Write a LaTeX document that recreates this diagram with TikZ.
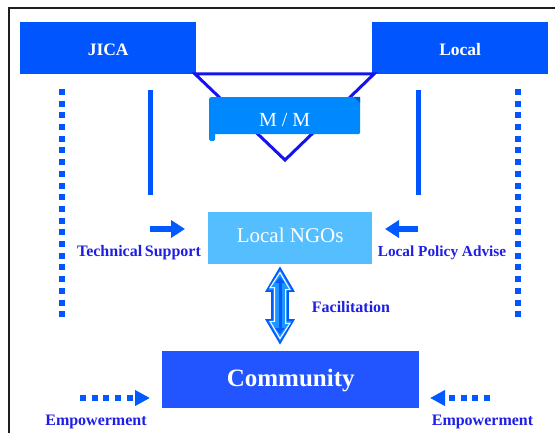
\documentclass[tikz,border=0pt]{standalone}
\usepackage{fontspec}
\setmainfont{Liberation Serif}
\usetikzlibrary{arrows.meta,calc}

\definecolor{boxblue}{RGB}{0,85,255}
\definecolor{triblue}{RGB}{20,20,240}
\definecolor{mmblue}{RGB}{0,136,255}
\definecolor{mmdark}{RGB}{0,90,200}
\definecolor{ngoblue}{RGB}{85,190,255}
\definecolor{commblue}{RGB}{34,85,255}
\definecolor{lblblue}{RGB}{30,30,230}
\definecolor{arrblue}{RGB}{0,90,255}
\definecolor{facfill}{RGB}{30,150,255}
\definecolor{framegray}{RGB}{30,30,30}

\tikzset{
  topbox/.style={fill=boxblue, minimum width=176pt, minimum height=52pt, inner sep=0pt,
    text=white, font=\bfseries\fontsize{17.5}{17.5}\selectfont, text height=14pt, text depth=0pt},
  mmbox/.style={fill=mmblue, rounded corners=1.5pt, minimum width=151pt, minimum height=37pt, inner sep=0pt,
    text=white, font=\fontsize{20}{20}\selectfont, text height=22pt, text depth=0pt},
  ngobox/.style={fill=ngoblue, minimum width=164pt, minimum height=52pt, inner sep=0pt,
    text=white, font=\fontsize{21}{21}\selectfont, text height=9.4pt, text depth=0pt},
  commbox/.style={fill=commblue, minimum width=257pt, minimum height=57pt, inner sep=0pt,
    text=white, font=\bfseries\fontsize{25}{25}\selectfont, text height=13pt, text depth=0pt},
  sidelabel/.style={text=lblblue, inner sep=0pt, anchor=base, font=\bfseries\fontsize{16}{16}\selectfont},
  triline/.style={draw=triblue, line width=3pt, line join=miter},
  solidbar/.style={draw=boxblue, line width=5pt},
  dotbar/.style={draw=boxblue, line width=6pt, dash pattern=on 6pt off 5.7pt},
  fatarrow/.style={draw=arrblue, line width=6pt, -{Triangle[length=14pt,width=17pt]}},
  dotarrow/.style={draw=arrblue, line width=6pt, dash pattern=on 6pt off 5.7pt,
    -{Triangle[length=15pt,width=15pt]}},
  frameline/.style={draw=framegray, line width=2pt},
}

\begin{document}
\begin{tikzpicture}[x=1pt, y=-1pt]
  \useasboundingbox (0,0) rectangle (555,433);

  % outer frame (top and left edges)
  \draw[frameline] (9,433) -- (9,8) -- (555,8);

  % partner boxes
  \node[topbox, anchor=north west] (jica) at (20,22) {JICA};
  \node[topbox, anchor=north west] (local) at (372,22) {Local};

  % meeting triangle under the M/M scroll
  \draw[triline] (195,74) -- (374,74) -- (285,160) -- cycle;

  % M/M scroll
  \fill[mmblue, rounded corners=1.5pt] (209,128) rectangle (215,141);
  \node[mmbox, anchor=north west] (mm) at (209,97) {M / M};
  \fill[mmdark] (354,97) -- (360,97) -- (360,103) -- cycle;

  % vertical lines
  \draw[solidbar] (150,90) -- (150,195);
  \draw[solidbar] (418,90) -- (418,195);
  \draw[dotbar] (62,89) -- (62,317.5);
  \draw[dotbar] (518,89) -- (518,317.5);

  % Local NGOs
  \node[ngobox, anchor=north west] (ngo) at (208,212) {Local NGOs};

  % supports into the NGOs
  \coordinate (tsA) at (150,229);
  \coordinate (tsB) at (185,229);
  \coordinate (lpA) at (418,229);
  \coordinate (lpB) at (385,229);
  \draw[fatarrow] (tsA) -- (tsB);
  \draw[fatarrow] (lpA) -- (lpB);
  \node[sidelabel] (tslbl) at (139,257) {Technical\,Support};
  \node[sidelabel, font=\bfseries\fontsize{15.3}{15.3}\selectfont] (lplbl) at (442,257) {Local Policy Advise};

  % Community
  \node[commbox, anchor=north west] (comm) at (162,351) {Community};

  % facilitation double arrow
  \coordinate (facT) at (280,268);
  \coordinate (facB) at (280,343);
  \filldraw[fill=facfill, draw=arrblue, line width=1.6pt, line join=miter]
    (facT) -- ++(13.5,23) -- ++(-5.5,0) -- ++(0,29) -- ++(5.5,0) -- (facB)
    -- ++(-13.5,-23) -- ++(5.5,0) -- ++(0,-29) -- ++(-5.5,0) -- cycle;
  \draw[white, line width=1pt, line join=miter]
    ($(facT)+(0,4.5)$) -- ++(10,17.2) -- ++(-4.5,0) -- ++(0,33.6) -- ++(4.5,0)
    -- ($(facB)+(0,-4.5)$) -- ++(-10,-17.2) -- ++(4.5,0) -- ++(0,-33.6) -- ++(-4.5,0) -- cycle;
  \draw[arrblue, line width=3pt, {Triangle[length=6pt,width=9pt]}-{Triangle[length=6pt,width=9pt]}]
    ($(facT)+(0,9)$) -- ($(facB)+(0,-9)$);
  \node[sidelabel] (faclbl) at (351,312.5) {Facilitation};

  % empowerment arrows
  \coordinate (emLA) at (80,398);
  \coordinate (emLB) at (150,398);
  \coordinate (emRA) at (490,398);
  \coordinate (emRB) at (430,398);
  \draw[dotarrow] (emLA) -- (emLB);
  \draw[dotarrow] (emRA) -- (emRB);
  \node[sidelabel] (emL) at (96,425) {Empowerment};
  \node[sidelabel] (emR) at (482.5,425) {Empowerment};
\end{tikzpicture}
\end{document}
